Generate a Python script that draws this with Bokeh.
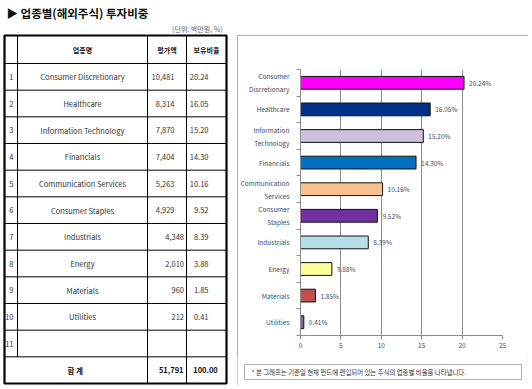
from bokeh.plotting import figure
from bokeh.layouts import row, column
from bokeh.models import Range1d, FixedTicker, Plot
from bokeh.embed import file_html
from bokeh.resources import INLINE
from bokeh.core.properties import value

# ---------------- data ----------------
categories = ["Consumer Discretionary", "Healthcare", "Information Technology", "Financials",
              "Communication Services", "Consumer Staples", "Industrials", "Energy",
              "Materials", "Utilities"]
chart_labels = ["Consumer\nDiscretionary", "Healthcare", "Information\nTechnology", "Financials",
                "Communication\nServices", "Consumer\nStaples", "Industrials", "Energy",
                "Materials", "Utilities"]
amounts = [10481, 8314, 7870, 7404, 5263, 4929, 4348, 2010, 960, 212]
ratios = [20.24, 16.05, 15.20, 14.30, 10.16, 9.52, 8.39, 3.88, 1.85, 0.41]
bar_colors = ["#FF00FF", "#003087", "#CCC0DA", "#0070C0", "#FAC090",
              "#7030A0", "#B7DEE8", "#FFFF99", "#C0504D", "#8064A2"]
total_amount = 51791
total_ratio = 100.00
n_table_rows = 11
x_ticks = [0, 5, 10, 15, 20, 25]

title_text = "▶ 업종별(해외주식) 투자비중"
unit_text = "(단위: 백만원, %)"
headers = ["업종명", "평가액", "보유비율"]
total_label = "합  계"
footnote = "* 본 그래프는 기준일 현재 펀드에 편입되어 있는 주식의 업종별 비율을 나타냅니다."

FONT = "Noto Sans CJK KR"
NOALIGN = {"frame_align": False} if "frame_align" in Plot.properties() else {}

# ---------------- left: title + table ----------------
LW, LH = 232, 386
t = figure(width=LW, height=LH, x_range=Range1d(0, LW), y_range=Range1d(LH, 0),
           x_axis_location=None, y_axis_location=None, toolbar_location=None,
           output_backend="svg", min_border=0, outline_line_color=None, **NOALIGN)
t.grid.visible = False

col_x = [4, 17, 147, 186, 226]
top = 35
header_bottom = 63
bottom = 383
row_h = (bottom - header_bottom) / (n_table_rows + 1)
bounds = [header_bottom + row_h * k for k in range(n_table_rows + 2)]

hy = bounds[:-1]
t.segment(x0=[col_x[0]] * len(hy), x1=[col_x[4]] * len(hy), y0=hy, y1=hy,
          line_color="black", line_width=1)
t.segment(x0=[col_x[1]], x1=[col_x[1]], y0=[top], y1=[bounds[-2]], line_color="black", line_width=1)
t.segment(x0=col_x[2:4], x1=col_x[2:4], y0=[top, top], y1=[bottom, bottom],
          line_color="black", line_width=1)
t.quad(left=[col_x[0]], right=[col_x[4]], top=[top], bottom=[bottom],
       fill_color=None, line_color="black", line_width=2.2)

txt = dict(text_font=value(FONT), text_baseline="middle")
t.text(x=[6], y=[4], text=[title_text], text_font=value(FONT), text_baseline="top",
       text_font_size="11.5px", text_font_style="bold", text_color="#111111")
t.text(x=[col_x[4] - 4], y=[33], text=[unit_text], text_font=value(FONT), text_baseline="bottom",
       text_align="right", text_font_size="7px", text_color="#666666")
hyc = (top + header_bottom) / 2
hx = [(col_x[1] + col_x[2]) / 2, (col_x[2] + col_x[3]) / 2, (col_x[3] + col_x[4]) / 2]
t.text(x=hx, y=[hyc] * 3, text=headers, text_align="center", text_font_size="7px",
       text_font_style="bold", text_color="#111111", **txt)

centers = [(bounds[k] + bounds[k + 1]) / 2 for k in range(n_table_rows + 1)]
t.text(x=[col_x[1] - 4] * n_table_rows, y=centers[:n_table_rows],
       text=[str(k + 1) for k in range(n_table_rows)], text_align="right",
       text_font_size="7.5px", text_color="#333333", **txt)
nc = len(categories)
t.text(x=[hx[0]] * nc, y=centers[:nc], text=categories, text_align="center",
       text_font_size="7.5px", text_color="#333333", **txt)
amt_x = [col_x[3] - 12] * 6 + [col_x[3] - 2.5] * (nc - 6)
t.text(x=amt_x, y=centers[:nc], text=[f"{a:,}" for a in amounts], text_align="right",
       text_font_size="7.5px", text_color="#333333", **txt)
t.text(x=[col_x[4] - 18] * nc, y=centers[:nc], text=[f"{r:.2f}" for r in ratios], text_align="right",
       text_font_size="7.5px", text_color="#333333", **txt)
t.text(x=[(col_x[0] + col_x[2]) / 2], y=[centers[-1]], text=[total_label], text_align="center",
       text_font_size="7.5px", text_font_style="bold", text_color="#111111", **txt)
t.text(x=[col_x[3] - 3], y=[centers[-1]], text=[f"{total_amount:,}"], text_align="right",
       text_font_size="7.5px", text_font_style="bold", text_color="#111111", **txt)
t.text(x=[col_x[4] - 21], y=[centers[-1]], text=[f"{total_ratio:.2f}"], text_align="center",
       text_font_size="7.5px", text_font_style="bold", text_color="#111111", **txt)

# ---------------- right: bar chart in a framed box ----------------
RW = 291
CH = 320
c = figure(width=RW, height=CH, x_range=Range1d(0, 25), y_range=Range1d(nc - 0.5, -0.5),
           min_border_left=60, min_border_right=26, min_border_top=34, min_border_bottom=20,
           toolbar_location=None, output_backend="svg", outline_line_color=None, **NOALIGN)

ys = list(range(nc))
c.hbar(y=ys, left=0, right=ratios, height=0.48, fill_color=bar_colors,
       line_color="#111111", line_width=1)
c.text(x=ratios, y=ys, text=[f"{r:.2f}%" for r in ratios], x_offset=5, text_baseline="middle",
       text_font=value(FONT), text_font_size="6.5px", text_color="#404a63")

c.ygrid.visible = False
c.xgrid.ticker = x_ticks
c.xgrid.grid_line_color = "#8c8c8c"

c.xaxis.ticker = x_ticks
c.xaxis.axis_line_color = "#8c8c8c"
c.xaxis.major_tick_line_color = "#8c8c8c"
c.xaxis.major_tick_in = 0
c.xaxis.major_tick_out = 4
c.xaxis.minor_tick_line_color = None
c.xaxis.major_label_text_font = FONT
c.xaxis.major_label_text_font_size = "6.5px"
c.xaxis.major_label_text_color = "#404a63"
c.xaxis.major_label_standoff = 3

c.yaxis.ticker = FixedTicker(ticks=ys, minor_ticks=[k - 0.5 for k in range(nc + 1)])
c.yaxis.major_label_overrides = {k: lbl for k, lbl in enumerate(chart_labels)}
c.yaxis.axis_line_color = "#8c8c8c"
c.yaxis.major_tick_line_color = None
c.yaxis.minor_tick_line_color = "#8c8c8c"
c.yaxis.minor_tick_in = 0
c.yaxis.minor_tick_out = 4
c.yaxis.major_label_standoff = 5
c.yaxis.major_label_text_font = FONT
c.yaxis.major_label_text_font_size = "6.5px"
c.yaxis.major_label_text_color = "#404a63"
c.yaxis.major_label_text_align = "center"
c.yaxis.major_label_text_line_height = 1.3

# footnote strip
FH = 30
f = figure(width=RW, height=FH, x_range=Range1d(0, RW), y_range=Range1d(FH, 0),
           x_axis_location=None, y_axis_location=None, toolbar_location=None,
           output_backend="svg", min_border=0, outline_line_color=None, **NOALIGN)
f.grid.visible = False
f.quad(left=[7], right=[284], top=[9], bottom=[24], fill_color=None,
       line_color="#b4b4b4", line_width=1)
f.text(x=[14], y=[16.5], text=[footnote], text_font=value(FONT), text_baseline="middle",
       text_font_size="6.4px", text_color="#333333")

right = column(c, f, margin=(35, 0, 0, 5),
               styles={"outline": "1.6px solid #9a9a9a", "outline-offset": "-1.6px"})

layout = row(t, right)
open("out.html", "w").write(file_html(layout, INLINE))
